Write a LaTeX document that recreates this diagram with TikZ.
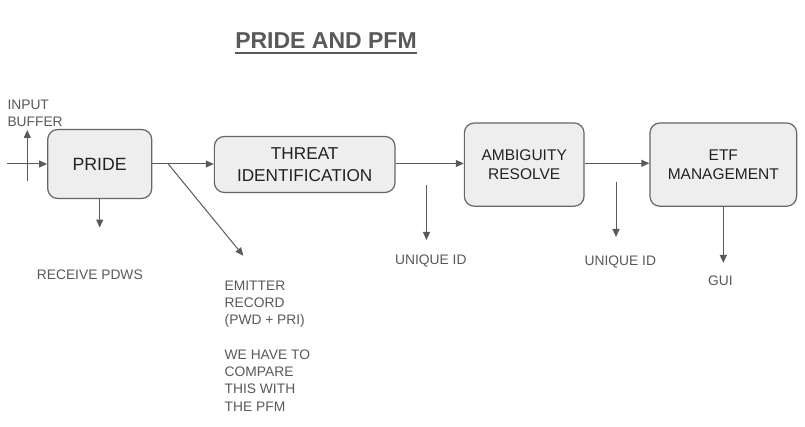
\documentclass[tikz,border=0pt]{standalone}
\usepackage{fontspec}
\setmainfont{Liberation Sans}
\usetikzlibrary{arrows.meta}
\definecolor{lblc}{HTML}{595959}
\definecolor{boxfill}{HTML}{EEEEEE}
\definecolor{boxline}{HTML}{666666}
\definecolor{arrc}{HTML}{5A5A5A}
\definecolor{boxtext}{HTML}{222222}
\begin{document}
\begin{tikzpicture}[x=1pt,y=-1pt,
  blk/.style={draw=boxline, fill=boxfill, rounded corners=10pt, line width=1.2pt,
    align=center, text=boxtext, inner sep=0pt},
  conn/.style={draw=arrc, line width=1pt, -{Triangle[length=8pt,width=7pt]}},
  lbl/.style={text=lblc, font=\fontsize{13.8}{17.3}\selectfont, inner sep=0pt, align=left}]
\useasboundingbox[fill=white] (0,0) rectangle (805,427);

% title
\node[anchor=base, inner sep=0pt, text=lblc, font=\fontsize{23}{27}\selectfont\bfseries] (title) at (326,49) {PRIDE AND PFM};
\draw[lblc, line width=2pt] ([yshift=-3.5pt]title.south west) -- ([yshift=-3.5pt]title.south east);

% boxes
\node[blk, minimum width=104pt, minimum height=69pt, font=\fontsize{17.7}{21}\selectfont] (pride) at (99.7,164) {PRIDE};
\node[blk, minimum width=180.7pt, minimum height=56pt, font=\fontsize{17.2}{21.7}\selectfont] (threat) at (304.7,164.5) {THREAT\\IDENTIFICATION};
\node[blk, minimum width=119.7pt, minimum height=83.3pt, font=\fontsize{15.5}{18.5}\selectfont] (ambig) at (524.2,164.6) {AMBIGUITY\\RESOLVE};
\node[blk, minimum width=146.7pt, minimum height=83.3pt, font=\fontsize{15.5}{18.5}\selectfont] (etf) at (723.3,164.6) {ETF\\MANAGEMENT};

% labels
\node[lbl, anchor=north west] (inbuf) at (7.3,100) {INPUT\\BUFFER};
\node[lbl, anchor=north west] (pdws) at (36.7,270) {RECEIVE PDWS};
\node[lbl, anchor=north west] (emit) at (224.5,280.5) {EMITTER\\RECORD\\(PWD + PRI)\\[17.3pt]WE HAVE TO\\COMPARE\\THIS WITH\\THE PFM};
\node[lbl, anchor=north west] (uid1) at (395,255) {UNIQUE ID};
\node[lbl, anchor=north west] (uid2) at (584.5,255.5) {UNIQUE ID};
\node[lbl, anchor=north west] (gui) at (708,275.5) {GUI};

% free ends
\coordinate (inL) at (7,164);
\coordinate (ibBot) at (27.3,181);
\coordinate (ibTop) at (27.3,130);
\coordinate (split) at (168.3,164);
\coordinate (emitTip) at (243.3,255.7);
\coordinate (u1Top) at (426.5,185);
\coordinate (u1Tip) at (426.5,240);
\coordinate (u2Top) at (616,181.7);
\coordinate (u2Tip) at (616,237);

% connectors
\draw[conn] (inL) -- (pride.west |- inL);
\draw[conn] (ibBot) -- (ibTop);
\draw[conn] (pride.south) -- ++(0,28.5) coordinate (pdwsTip);
\draw[conn] (pride.east |- split) -- (threat.west |- split);
\draw[conn] (split) -- (emitTip);
\draw[conn] (threat.east |- 0,163.5) -- (ambig.west |- 0,163.5);
\draw[conn] (u1Top) -- (u1Tip);
\draw[conn] (ambig.east |- 0,163.3) -- (etf.west |- 0,163.3);
\draw[conn] (u2Top) -- (u2Tip);
\draw[conn] (etf.south) -- ++(0,56) coordinate (guiTip);
\end{tikzpicture}
\end{document}
